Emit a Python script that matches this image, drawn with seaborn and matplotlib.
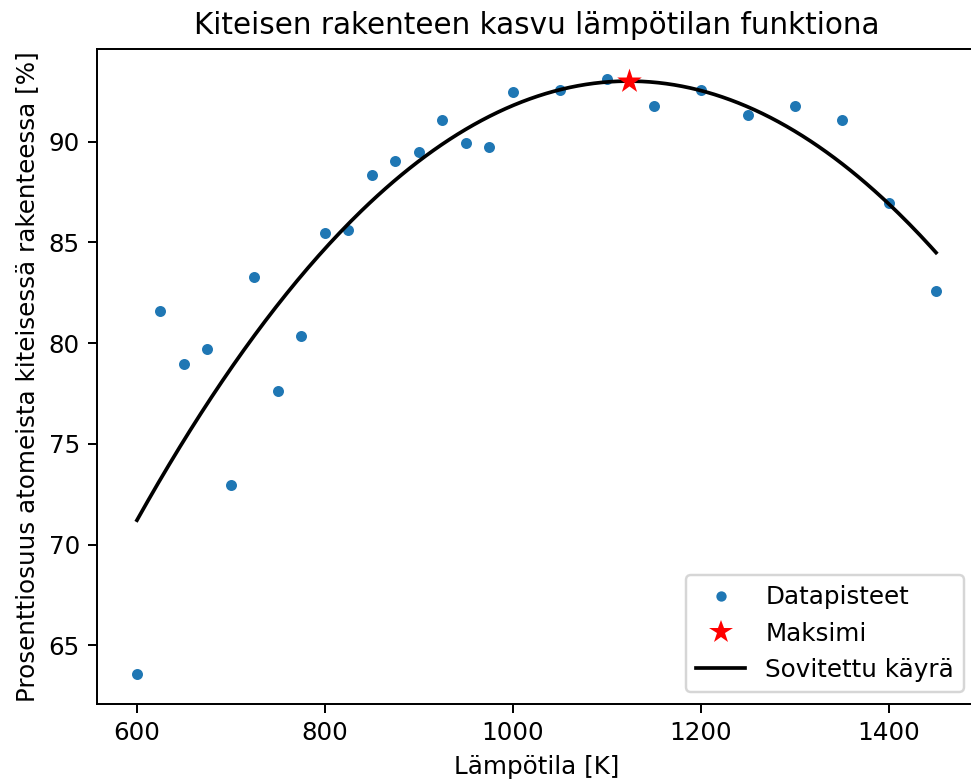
import numpy as np
import pandas as pd
import matplotlib
matplotlib.use("Agg")
import matplotlib.pyplot as plt
import seaborn as sns
from matplotlib.lines import Line2D

# Data
temperature = [600, 625, 650, 675, 700, 725, 750, 775, 800, 825, 850, 875, 900,
               925, 950, 975, 1000, 1050, 1100, 1150, 1200, 1250, 1300, 1350,
               1400, 1450]
crystal_pct = [63.56, 81.58, 78.96, 79.70, 72.97, 83.27, 77.62, 80.35, 85.45,
               85.60, 88.32, 89.06, 89.46, 91.09, 89.95, 89.75, 92.48, 92.57,
               93.12, 91.78, 92.57, 91.34, 91.78, 91.09, 86.93, 82.57]

title = "Kiteisen rakenteen kasvu lämpötilan funktiona"
xlabel = "Lämpötila [K]"
ylabel = "Prosenttiosuus atomeista kiteisessä rakenteessa [%]"
labels = ["Datapisteet", "Maksimi", "Sovitettu käyrä"]

df = pd.DataFrame({"T": temperature, "P": crystal_pct})

# Quadratic fit (as in the original analysis)
coef = np.polyfit(df["T"], df["P"], 2)
T_fit = np.linspace(min(temperature), max(temperature), 300)
P_fit = np.polyval(coef, T_fit)
fit_df = pd.DataFrame({"T": T_fit, "P": P_fit})
T_max = -coef[1] / (2 * coef[0])
P_max = np.polyval(coef, T_max)
max_df = pd.DataFrame({"T": [T_max], "P": [P_max]})

dpi = 177
fig = plt.figure(figsize=(971 / dpi, 782 / dpi), dpi=dpi)
ax = fig.add_axes([97 / 971, 78 / 782, 879 / 971, 655 / 782])

sns.scatterplot(data=df, x="T", y="P", ax=ax, color="#1f77b4", s=20,
                linewidth=0, zorder=2)
sns.lineplot(data=fit_df, x="T", y="P", ax=ax, color="black", linewidth=1.5,
             zorder=3)
sns.scatterplot(data=max_df, x="T", y="P", ax=ax, color="red", marker="*",
                s=110, linewidth=0, zorder=4)

ax.spines["right"].set_visible(False)
ax.set_title(title, fontsize=12)
ax.set_xlabel(xlabel)
ax.set_ylabel(ylabel)

handles = [
    Line2D([], [], linestyle="none", marker="o", markersize=4.2,
           markerfacecolor="#1f77b4", markeredgewidth=0),
    Line2D([], [], linestyle="none", marker="*", markersize=10,
           markerfacecolor="red", markeredgewidth=0),
    Line2D([], [], color="black", linewidth=1.5),
]
ax.legend(handles, labels, loc="lower right")

fig.savefig("out.png", dpi=dpi)
